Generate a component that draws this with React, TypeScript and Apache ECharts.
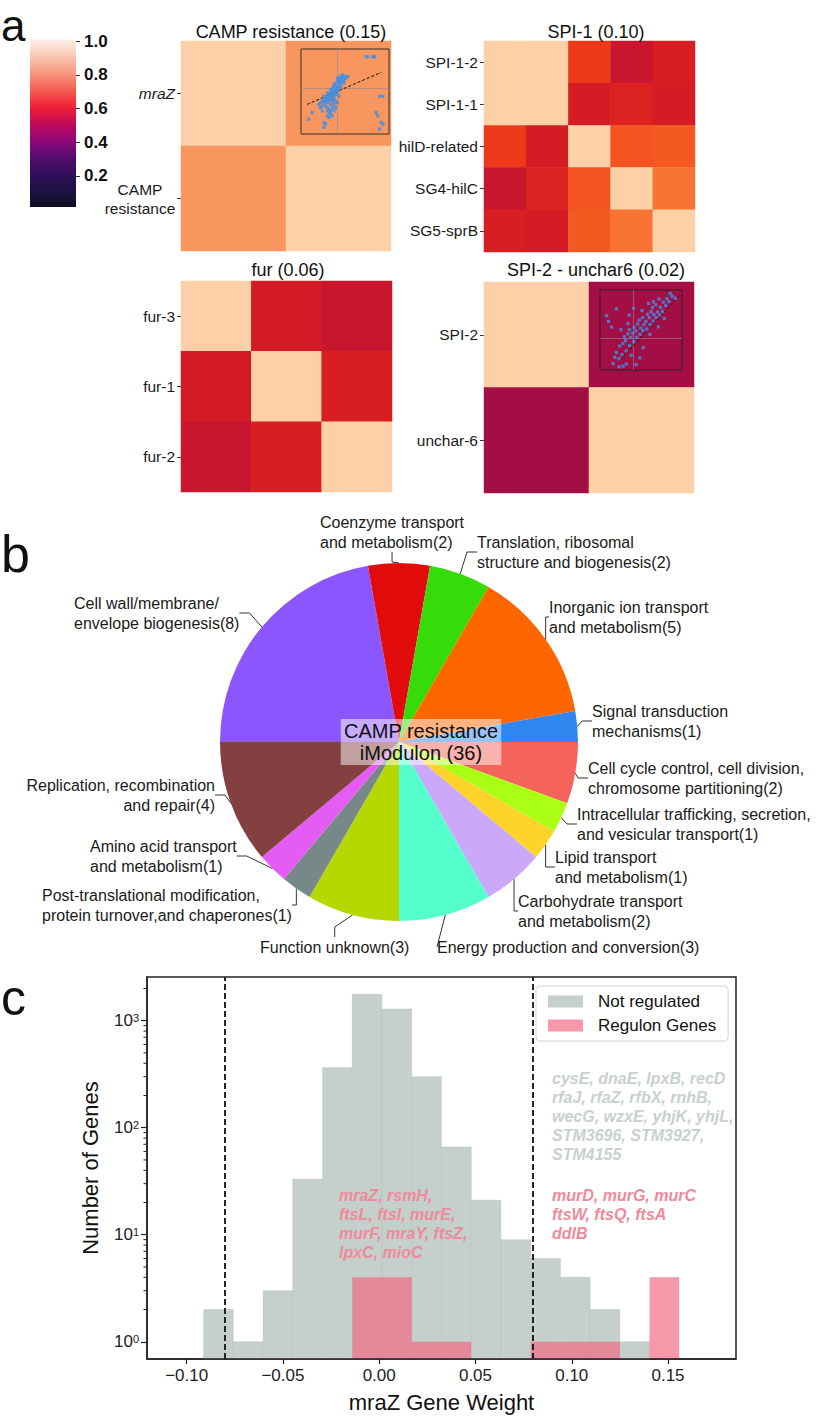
import React, { useEffect, useRef } from 'react';
import * as echarts from 'echarts';

const FONT = '"Liberation Sans", Arial, Helvetica, sans-serif';

// ---------------- Panel a : colour bar ----------------
const colorbarTicks = [0.2, 0.4, 0.6, 0.8, 1.0];
const colorbarRange = [0.015, 1.01];
const colorbarColors = ['#0B0C20', '#1A1240', '#2D0F58', '#4F0C6C', '#8B077C', '#BE0A5C', '#EE1C36', '#F4574E', '#F7937A', '#F9C2AE', '#FBEBE3'];

// ---------------- Panel a : correlation heatmaps ----------------
const heatColors = ['#7A0A4C', '#900C48', '#A30F45', '#B81338', '#C8162E', '#D81E22', '#EC3419', '#F34E1C', '#F86A2C', '#F8803F', '#F89660', '#FBB384', '#FDD0A8'];

const campTitle = 'CAMP resistance (0.15)';
const campLabels = ['mraZ', 'CAMP resistance'];
const campCorr = [
  [1.0, 0.9],
  [0.9, 1.0],
];

const spi1Title = 'SPI-1 (0.10)';
const spi1Labels = ['SPI-1-2', 'SPI-1-1', 'hilD-related', 'SG4-hilC', 'SG5-sprB'];
const spi1Corr = [
  [1.0, 1.0, 0.71, 0.6, 0.65],
  [1.0, 1.0, 0.64, 0.66, 0.64],
  [0.71, 0.64, 1.0, 0.76, 0.77],
  [0.6, 0.66, 0.76, 1.0, 0.82],
  [0.65, 0.64, 0.77, 0.82, 1.0],
];

const furTitle = 'fur (0.06)';
const furLabels = ['fur-3', 'fur-1', 'fur-2'];
const furCorr = [
  [1.0, 0.63, 0.6],
  [0.63, 1.0, 0.65],
  [0.6, 0.65, 1.0],
];

const spi2Title = 'SPI-2 - unchar6 (0.02)';
const spi2Labels = ['SPI-2', 'unchar-6'];
const spi2Corr = [
  [1.0, 0.5],
  [0.5, 1.0],
];

// inset scatter: mraZ vs CAMP resistance activities
const campInsetTicks = [-20, -10, 0, 10, 20];
const campInsetPoints = [
  [-10, -9], [-9, -8], [-8, -7], [-8, -9], [-7, -6], [-7, -8], [-6, -5], [-6, -7], [-6, -9], [-5, -4], [-5, -6], [-5, -8],
  [-4, -3], [-4, -5], [-4, -7], [-3, -2], [-3, -4], [-3, -6], [-2, -1], [-2, -3], [-2, -5], [-1, 0], [-1, -2], [-1, -4],
  [0, 1], [0, -1], [0, -3], [1, 2], [1, 0], [1, 4], [2, 3], [2, 1], [2, 5], [3, 4], [3, 6], [4, 5], [4, 7], [5, 6], [6, 7],
  [-1, 3], [0, 4], [1, 6], [-2, 1], [-3, 0], [-7, -11], [-6, -12], [-5, -13], [-5, -15], [-4, -14], [-4, -16], [-3, -12],
  [-3, -17], [-2, -10], [-2, -14], [-1, -8], [-1, -12], [0, -9], [-6, -17], [-5, -18], [-17, -19], [-15, -15], [-10, -12],
  [-9, -14], [-8, -21], [-8, -24], [-7, -22], [17, 19], [18, 19], [21, 19], [22, 19], [25, -5], [27, -5], [23, -15],
  [24, -17], [26, -21], [27, -22], [25, -25], [-4, -1], [-6, -3], [-8, -5], [-2, 2], [0, 6], [3, 8], [-9, -11], [-11, -10],
  [-3, -8], [-4, -10], [-2, -7], [1, -5], [-6, -14], [2, 7], [4, 3],
];
const campInsetFit = [[-18, -10], [26, 9.5]];

// inset scatter: SPI-2 vs unchar-6 activities
const spi2InsetTicks = [-10, -5, 0, 5, 10];
const spi2InsetPoints = [
  [-6, -8], [-5.5, -6], [-5, -4.5], [-4.2, -6.5], [-4, -2.5], [-3.3, -5.2], [-3, -1.7], [-2.6, 0.4], [-2, -4], [-2.2, -0.8],
  [-1.5, 1.3], [-1, -2.4], [-0.6, 0.2], [-1, 2.6], [0.3, -1.2], [0, 1.5], [0.4, 3.3], [1.2, 0.2], [1, 2.2], [1.5, 4.4],
  [2.2, 1.1], [2.4, 3.1], [2, 5.6], [3.1, 2.3], [3.4, 4.2], [3, 6.4], [4.3, 2.8], [4, 5.2], [4.5, 7.4], [5.3, 4.2],
  [5, 6.4], [5.6, 8.2], [6.2, 5.3], [6.4, 7.3], [6, 9.5], [7.1, 6.4], [7.5, 8.1], [7, 10.4], [8.2, 7.2], [8.4, 9.6],
  [9.1, 8.3], [9.3, 11.2], [10, 10.1], [10.4, 12.3], [11, 11.4], [12, 13.1], [11.4, 13.9], [13, 12.4], [8, 12.2], [6.3, 11.3],
  [-8, 7], [-7.4, 5.2], [-6.5, 3.4], [-5, 9.1], [-4.2, -9], [-3, -8.8], [-2, -8.1], [0.2, 9.3], [-1.1, 7.2], [3.2, -3],
  [2.1, -6.2], [1, -8.3], [-1.5, 4.5], [2.8, 8.6], [5.2, 1.1], [7.8, 3.5], [-3.6, 2.6], [4.8, 10.8], [9.6, 6.1], [-0.5, -5.4],
];
const spi2InsetFit = [[-4, -7], [14, 13]];

// ---------------- Panel b : pie ----------------
const pieCategories = [
  'Cell wall/membrane/\nenvelope biogenesis',
  'Coenzyme transport\nand metabolism',
  'Translation, ribosomal\nstructure and biogenesis',
  'Inorganic ion transport\nand metabolism',
  'Signal transduction\nmechanisms',
  'Cell cycle control, cell division,\nchromosome partitioning',
  'Intracellular trafficking, secretion,\nand vesicular transport',
  'Lipid transport\nand metabolism',
  'Carbohydrate transport\nand metabolism',
  'Energy production and conversion',
  'Function unknown',
  'Post-translational modification,\nprotein turnover,and chaperones',
  'Amino acid transport\nand metabolism',
  'Replication, recombination\nand repair',
];
const pieCounts = [8, 2, 2, 5, 1, 2, 1, 1, 2, 3, 3, 1, 1, 4];
const pieColors = ['#8C56FF', '#E20B0B', '#36DC0A', '#FF6600', '#2E86EE', '#F5645A', '#AAFF14', '#FFD42A', '#CCA8FA', '#55FFCC', '#B4D800', '#778888', '#E55CF5', '#844040'];
const pieCenterText = 'CAMP resistance\niModulon (36)';
// label placement (layout): [x, y, align]
const pieLabelPos: [number, number, string][] = [
  [74, 613, 'left'], [320, 532, 'left'], [477, 552, 'left'], [549, 617, 'left'], [592, 721, 'left'],
  [588, 778, 'left'], [577, 824, 'left'], [555, 867, 'left'], [518, 911, 'left'], [437, 947, 'left'],
  [260, 947, 'left'], [42, 905, 'left'], [90, 856, 'left'], [215, 795, 'right'],
];

// ---------------- Panel c : histogram ----------------
const histEdges = [-0.0912, -0.0758, -0.0603, -0.0449, -0.0294, -0.014, 0.0014, 0.0169, 0.0323, 0.0478, 0.0632, 0.0787, 0.0941, 0.1095, 0.125, 0.1404, 0.1558];
const notRegulated = [2, 1, 3, 33, 364, 1766, 1286, 300, 66, 21, 9, 6, 4, 2, 1, 0];
const regulonGenes = [0, 0, 0, 0, 0, 4, 4, 1, 1, 0, 0, 1, 1, 1, 0, 4];
const histThresholds = [-0.076, 0.0784];
const histXRange = [-0.1206, 0.1853];
const histYRange = [0.69, 2560];
const histXTicks = [-0.1, -0.05, 0, 0.05, 0.1, 0.15];
const histMinorTicks = [2, 3, 4, 5, 6, 7, 8, 9, 20, 30, 40, 50, 60, 70, 80, 90, 200, 300, 400, 500, 600, 700, 800, 900, 2000];
const unregulatedAbove = ['cysE, dnaE, lpxB, recD', 'rfaJ, rfaZ, rfbX, rnhB,', 'wecG, wzxE, yhjK, yhjL,', 'STM3696, STM3927,', 'STM4155'];
const regulonInside = ['mraZ, rsmH,', 'ftsL, ftsI, murE,', 'murF, mraY, ftsZ,', 'lpxC, mioC'];
const regulonAbove = ['murD, murG, murC', 'ftsW, ftsQ, ftsA', 'ddlB'];

const GREY = '#C5CFCC';
const PINK = 'rgba(241,106,130,0.69)';

const toCells = (m: number[][]) => m.flatMap((row, r) => row.map((v, c) => [c, r, v]));

function heatY(grid: number, labels: string[], extra: any = {}) {
  return {
    gridIndex: grid, type: 'category', data: labels, inverse: true,
    axisLine: { show: false, onZero: false },
    axisTick: { show: true, alignWithLabel: true, length: 4, lineStyle: { color: '#333', width: 1 } },
    axisLabel: { fontSize: 15.5, color: '#1a1a1a', fontFamily: FONT, margin: 6, ...(extra.axisLabel || {}) },
    splitLine: { show: false },
  };
}
function heatX(grid: number, labels: string[]) {
  return { gridIndex: grid, type: 'category', data: labels, show: false };
}
function heatSeries(idx: number, m: number[][]) {
  return {
    type: 'heatmap', xAxisIndex: idx, yAxisIndex: idx, data: toCells(m),
    itemStyle: { borderWidth: 0 }, emphasis: { disabled: true }, silent: true, z: 2,
  };
}
function insetAxis(grid: number, min: number, max: number, ticks: number[], name: string, isY: boolean) {
  return {
    gridIndex: grid, type: 'value', min, max,
    splitLine: { show: false },
    axisLine: { show: true, onZero: false, lineStyle: { color: '#222', width: 0.8 } },
    axisTick: { show: true, length: 1.5, customValues: ticks, lineStyle: { color: '#222', width: 0.6 } },
    axisLabel: { fontSize: 4.5, color: '#333', margin: 2, customValues: ticks, fontFamily: FONT },
    name, nameLocation: 'middle', nameGap: isY ? 8 : 7,
    nameTextStyle: { fontSize: 3.5, color: '#333', fontFamily: FONT },
  };
}
function insetSeries(idx: number, pts: number[][], fit: number[][]) {
  return {
    type: 'scatter', xAxisIndex: idx, yAxisIndex: idx, data: pts, symbol: 'rect', symbolSize: 3.2,
    itemStyle: { color: '#3D8FE6' }, z: 12, silent: true,
    markLine: {
      silent: true, symbol: ['none', 'none'], label: { show: false }, z: 11,
      data: [
        { xAxis: 0, lineStyle: { color: '#8a8a8a', width: 0.6, type: 'solid' } },
        { yAxis: 0, lineStyle: { color: '#8a8a8a', width: 0.6, type: 'solid' } },
        [{ coord: fit[0], lineStyle: { color: '#111', width: 1, type: [3, 2] } }, { coord: fit[1] }],
      ],
    },
  };
}

function buildOption(): any {
  const cbMin = colorbarRange[0], cbMax = colorbarRange[1];
  const stops: any[] = [];
  for (let k = colorbarColors.length - 1; k >= 0; k--) {
    const v = k / (colorbarColors.length - 1);
    const off = Math.min(1, Math.max(0, (cbMax - v) / (cbMax - cbMin)));
    stops.push({ offset: off, color: colorbarColors[k] });
  }

  const histBars = (counts: number[]) =>
    counts.map((c, i) => [histEdges[i], histEdges[i + 1], c]).filter((d) => d[2] > 0);

  const barRender = (fill: string, stroke: string) => (params: any, api: any) => {
    const tl = api.coord([api.value(0), api.value(2)]);
    const br = api.coord([api.value(1), histYRange[0]]);
    return {
      type: 'rect',
      shape: { x: tl[0], y: tl[1], width: br[0] - tl[0], height: br[1] - tl[1] },
      style: { fill, stroke, lineWidth: 0.6 },
    };
  };

  const txt = (x: number, y: number, text: string, style: any) => ({
    type: 'text', x, y, z: 100, silent: true,
    style: { text, fontFamily: FONT, fill: '#111', ...style },
  });

  return {
    animation: false,
    backgroundColor: '#ffffff',
    textStyle: { fontFamily: FONT },
    grid: [
      { left: 30, top: 39.5, width: 46, height: 167.5 },
      { left: 181, top: 41, width: 210, height: 210 },
      { left: 301, top: 49, width: 88, height: 85, show: true, borderColor: '#222', borderWidth: 0.9, backgroundColor: 'transparent', z: 10 },
      { left: 484, top: 41, width: 211, height: 211 },
      { left: 181, top: 281, width: 211, height: 211 },
      { left: 484, top: 282, width: 210, height: 211 },
      { left: 600, top: 290, width: 82, height: 80, show: true, borderColor: '#222', borderWidth: 0.9, backgroundColor: 'transparent', z: 10 },
      { left: 147, top: 977, width: 589, height: 382, show: true, borderColor: '#222', borderWidth: 1.5, backgroundColor: 'transparent', z: 10 },
    ],
    xAxis: [
      { gridIndex: 0, type: 'value', min: 0, max: 1, show: false },
      heatX(1, campLabels),
      insetAxis(2, -21.6, 30.6, campInsetTicks, 'mraZ iModulon Activity', false),
      heatX(3, spi1Labels),
      heatX(4, furLabels),
      heatX(5, spi2Labels),
      insetAxis(6, -10, 15, spi2InsetTicks, 'unchar-6 iModulon Activity', false),
      {
        gridIndex: 7, type: 'value', min: histXRange[0], max: histXRange[1],
        splitLine: { show: false },
        axisLine: { show: true, onZero: false, lineStyle: { color: '#222', width: 1.5 } },
        axisTick: { show: true, length: 5, customValues: histXTicks, lineStyle: { color: '#222', width: 1.2 } },
        axisLabel: {
          fontSize: 17, color: '#222', margin: 8, customValues: histXTicks, fontFamily: FONT,
          formatter: (v: number) => (v < -1e-9 ? '\u2212' : '') + Math.abs(v).toFixed(2),
        },
        name: 'mraZ Gene Weight', nameLocation: 'middle', nameGap: 32,
        nameTextStyle: { fontSize: 22, color: '#111', fontFamily: FONT },
      },
    ],
    yAxis: [
      {
        gridIndex: 0, type: 'value', position: 'right', min: cbMin, max: cbMax,
        splitLine: { show: false }, axisLine: { show: false, onZero: false },
        axisTick: { show: true, length: 4, customValues: colorbarTicks, lineStyle: { color: '#333', width: 1 } },
        axisLabel: {
          fontSize: 17, fontWeight: 'bold', color: '#111', margin: 8, customValues: colorbarTicks, fontFamily: FONT,
          formatter: (v: number) => v.toFixed(1),
        },
      },
      heatY(1, campLabels, {
        axisLabel: {
          formatter: (v: string) => (v === 'mraZ' ? '{i|mraZ}' : v.split(' ').map((w) => `{c|${w}}`).join('\n')),
          rich: {
            i: { fontStyle: 'italic', fontSize: 15.5, color: '#1a1a1a', fontFamily: FONT },
            c: { fontSize: 15.5, color: '#1a1a1a', fontFamily: FONT, width: 70, align: 'center', lineHeight: 19 },
          },
        },
      }),
      insetAxis(2, -28, 23.7, campInsetTicks, 'CAMP resistance iModulon Activity', true),
      heatY(3, spi1Labels),
      heatY(4, furLabels),
      heatY(5, spi2Labels),
      insetAxis(6, -10, 15, spi2InsetTicks, 'SPI-2 iModulon Activity', true),
      {
        gridIndex: 7, type: 'log', logBase: 10, min: histYRange[0], max: histYRange[1],
        splitLine: { show: false },
        axisLine: { show: true, onZero: false, lineStyle: { color: '#222', width: 1.5 } },
        axisTick: { show: true, length: 6, lineStyle: { color: '#222', width: 1.2 } },
        axisLabel: {
          margin: 8, showMinLabel: false, showMaxLabel: false,
          formatter: (v: number) => `{b|10}{s|${Math.round(Math.log10(v))}}`,
          rich: {
            b: { fontSize: 17, color: '#222', fontFamily: FONT },
            s: { fontSize: 11, color: '#222', fontFamily: FONT, verticalAlign: 'top' },
          },
        },
        name: 'Number of Genes', nameLocation: 'middle', nameGap: 46,
        nameTextStyle: { fontSize: 22, color: '#111', fontFamily: FONT },
      },
    ],
    visualMap: [
      {
        type: 'continuous', show: false, min: 0.4, max: 1.0, dimension: 2,
        seriesIndex: [1, 3, 4, 5], inRange: { color: heatColors },
      },
    ],
    legend: {
      data: ['Not regulated', 'Regulon Genes'], left: 536, top: 986, orient: 'vertical',
      icon: 'rect', itemWidth: 35, itemHeight: 12, itemGap: 7, padding: [7, 12, 7, 12],
      borderColor: '#d4d4d4', borderWidth: 1, borderRadius: 4, backgroundColor: 'rgba(255,255,255,0.85)',
      textStyle: { fontSize: 17, color: '#111', fontFamily: FONT, padding: [0, 0, 0, 10] },
      selectedMode: false, z: 20,
    },
    series: [
      {
        type: 'custom', xAxisIndex: 0, yAxisIndex: 0, silent: true,
        data: [[0, 1, cbMin, cbMax]], encode: { x: [0, 1], y: [2, 3] },
        renderItem: (params: any, api: any) => {
          const tl = api.coord([api.value(0), api.value(3)]);
          const br = api.coord([api.value(1), api.value(2)]);
          return {
            type: 'rect',
            shape: { x: tl[0], y: tl[1], width: br[0] - tl[0], height: br[1] - tl[1] },
            style: { fill: new echarts.graphic.LinearGradient(0, 0, 0, 1, stops) },
          };
        },
      },
      heatSeries(1, campCorr),
      insetSeries(2, campInsetPoints, campInsetFit),
      heatSeries(3, spi1Corr),
      heatSeries(4, furCorr),
      heatSeries(5, spi2Corr),
      insetSeries(6, spi2InsetPoints, spi2InsetFit),
      {
        type: 'pie', center: [399, 742], radius: 179, startAngle: 180, clockwise: true,
        avoidLabelOverlap: false, silent: true, emphasis: { disabled: true },
        data: pieCategories.map((name, i) => ({ name, value: pieCounts[i], itemStyle: { color: pieColors[i] } })),
        itemStyle: { borderWidth: 0 },
        label: {
          show: true, position: 'outside', fontSize: 16, lineHeight: 20, color: '#1a1a1a', fontFamily: FONT,
          formatter: (p: any) => `${p.name}(${p.value})`,
        },
        labelLine: { show: true, length: 8, length2: 10, smooth: false, lineStyle: { color: '#333', width: 1 } },
        labelLayout: (p: any) => {
          const pos = pieLabelPos[p.dataIndex];
          return { x: pos[0], y: pos[1], align: pos[2], verticalAlign: 'middle' };
        },
      },
      {
        name: 'Not regulated', type: 'custom', xAxisIndex: 7, yAxisIndex: 7, silent: true,
        itemStyle: { color: GREY }, encode: { x: [0, 1], y: 2 },
        data: histBars(notRegulated), renderItem: barRender(GREY, 'rgba(175,188,185,0.6)'), z: 2,
        markLine: {
          silent: true, symbol: ['none', 'none'], label: { show: false }, z: 8,
          lineStyle: { color: '#111', type: [6, 3], width: 1.8 },
          data: histThresholds.map((v) => ({ xAxis: v })),
        },
      },
      {
        name: 'Regulon Genes', type: 'custom', xAxisIndex: 7, yAxisIndex: 7, silent: true,
        itemStyle: { color: PINK }, encode: { x: [0, 1], y: 2 },
        data: histBars(regulonGenes), renderItem: barRender(PINK, 'none'), z: 3,
      },
      {
        type: 'custom', xAxisIndex: 7, yAxisIndex: 7, silent: true, encode: { x: 0, y: 1 }, z: 12,
        data: histMinorTicks.map((v) => [histXRange[0], v]),
        renderItem: (params: any, api: any) => {
          const p = api.coord([api.value(0), api.value(1)]);
          return { type: 'line', shape: { x1: p[0] - 3.5, y1: p[1], x2: p[0], y2: p[1] }, style: { stroke: '#222', lineWidth: 1 } };
        },
      },
    ],
    graphic: [
      txt(1, 25, 'a', { fontSize: 44, align: 'left', verticalAlign: 'middle' }),
      txt(1, 554, 'b', { fontSize: 52, align: 'left', verticalAlign: 'middle' }),
      txt(1, 998, 'c', { fontSize: 50, align: 'left', verticalAlign: 'middle' }),
      txt(291, 32, campTitle, { fontSize: 18, align: 'center', verticalAlign: 'middle' }),
      txt(596, 32, spi1Title, { fontSize: 18, align: 'center', verticalAlign: 'middle' }),
      txt(288, 270, furTitle, { fontSize: 18, align: 'center', verticalAlign: 'middle' }),
      txt(596, 270, spi2Title, { fontSize: 18, align: 'center', verticalAlign: 'middle' }),
      txt(421, 742, pieCenterText, {
        fontSize: 20, lineHeight: 22, align: 'center', verticalAlign: 'middle',
        backgroundColor: 'rgba(255,255,255,0.5)', padding: [1, 3, 1, 3],
      }),
      txt(552, 1068.5, unregulatedAbove.join('\n'), { fontSize: 16, lineHeight: 19, fontWeight: 'bold', fontStyle: 'italic', fill: '#C8D1CE', align: 'left', verticalAlign: 'top' }),
      txt(339, 1185.5, regulonInside.join('\n'), { fontSize: 16, lineHeight: 19, fontWeight: 'bold', fontStyle: 'italic', fill: '#EE8A9A', align: 'left', verticalAlign: 'top' }),
      txt(552, 1185.5, regulonAbove.join('\n'), { fontSize: 16, lineHeight: 19, fontWeight: 'bold', fontStyle: 'italic', fill: '#EE8A9A', align: 'left', verticalAlign: 'top' }),
    ],
  };
}

export default function App() {
  const ref = useRef<HTMLDivElement>(null);
  useEffect(() => {
    const chart = echarts.init(ref.current as HTMLDivElement, null, { renderer: 'svg', width: 816, height: 1419 });
    chart.setOption(buildOption());
    return () => chart.dispose();
  }, []);
  return (
    <div
      ref={ref}
      style={{ position: 'absolute', left: 0, top: 0, width: 816, height: 1419, background: '#ffffff' }}
    />
  );
}
